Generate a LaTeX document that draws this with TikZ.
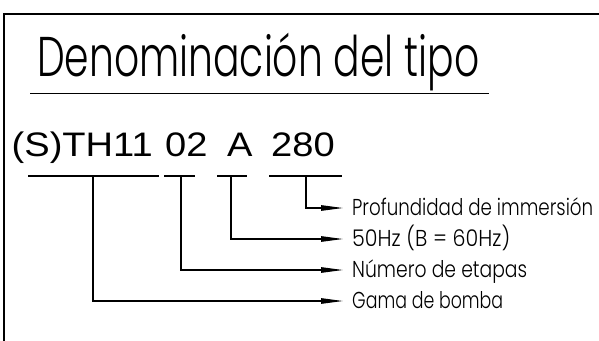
\documentclass[tikz,border=0pt]{standalone}
\usepackage{fontspec}
\usepackage{graphicx}
\setmainfont{Liberation Sans}
\newfontfamily\iso{Poppins Light}
\usetikzlibrary{arrows.meta}
\begin{document}
\begin{tikzpicture}[x=1pt,y=-1pt,
  frame/.style={line width=2pt},
  rule/.style={line width=1.2pt},
  conn/.style={line width=1.1pt,-{Triangle[length=22pt,width=5.5pt]}},
  code/.style={inner sep=0pt,anchor=base west,font=\fontsize{34}{38}\selectfont},
  lab/.style={inner sep=0pt,anchor=west,text height=14pt,text depth=0pt,font=\fontsize{23}{26}\selectfont\iso}]
\useasboundingbox (0,0) rectangle (599,340);
\fill[white] (0,0) rectangle (599,340);
\draw[frame] (4,342) -- (4,14) -- (601,14);
% title
\node[inner sep=0pt,anchor=base west] (title) at (37,76)
  {\resizebox{442pt}{\height}{\fontsize{56}{60}\selectfont\iso Denominación del tipo}};
\draw[line width=1.5pt] (30,93.5) -- (489,93.5);
% type code
\node[code] (c1) at (11.5,156) {\scalebox{1.12}[1]{(S)TH11}};
\node[code] (c2) at (165,156) {\scalebox{1.12}[1]{02}};
\node[code] (c3) at (227,156) {\scalebox{1.12}[1]{A}};
\node[code] (c4) at (271,156) {\scalebox{1.12}[1]{280}};
% underlines
\coordinate (u1a) at (28,176);  \coordinate (u1b) at (159,176);
\coordinate (u2a) at (164,176); \coordinate (u2b) at (195,176);
\coordinate (u3a) at (217,176); \coordinate (u3b) at (247,176);
\coordinate (u4a) at (269,176); \coordinate (u4b) at (342,176);
\draw[rule] (u1a) -- (u1b);
\draw[rule] (u2a) -- (u2b);
\draw[rule] (u3a) -- (u3b);
\draw[rule] (u4a) -- (u4b);
\coordinate (d1) at (93,176);
\coordinate (d2) at (181,176);
\coordinate (d3) at (231,176);
\coordinate (d4) at (306,176);
% labels
\node[lab] (l4) at (352,208) {\resizebox{241pt}{\height}{Profundidad de immersión}};
\node[lab] (l3) at (352,239) {\resizebox{158pt}{\height}{50Hz (B = 60Hz)}};
\node[lab] (l2) at (352,270) {\resizebox{175pt}{\height}{Número de etapas}};
\node[lab] (l1) at (352,301) {\resizebox{151pt}{\height}{Gama de bomba}};
% connectors
\draw[conn] (d4) |- ([xshift=-9pt]l4.west);
\draw[conn] (d3) |- ([xshift=-9pt]l3.west);
\draw[conn] (d2) |- ([xshift=-9pt]l2.west);
\draw[conn] (d1) |- ([xshift=-9pt]l1.west);
\end{tikzpicture}
\end{document}
